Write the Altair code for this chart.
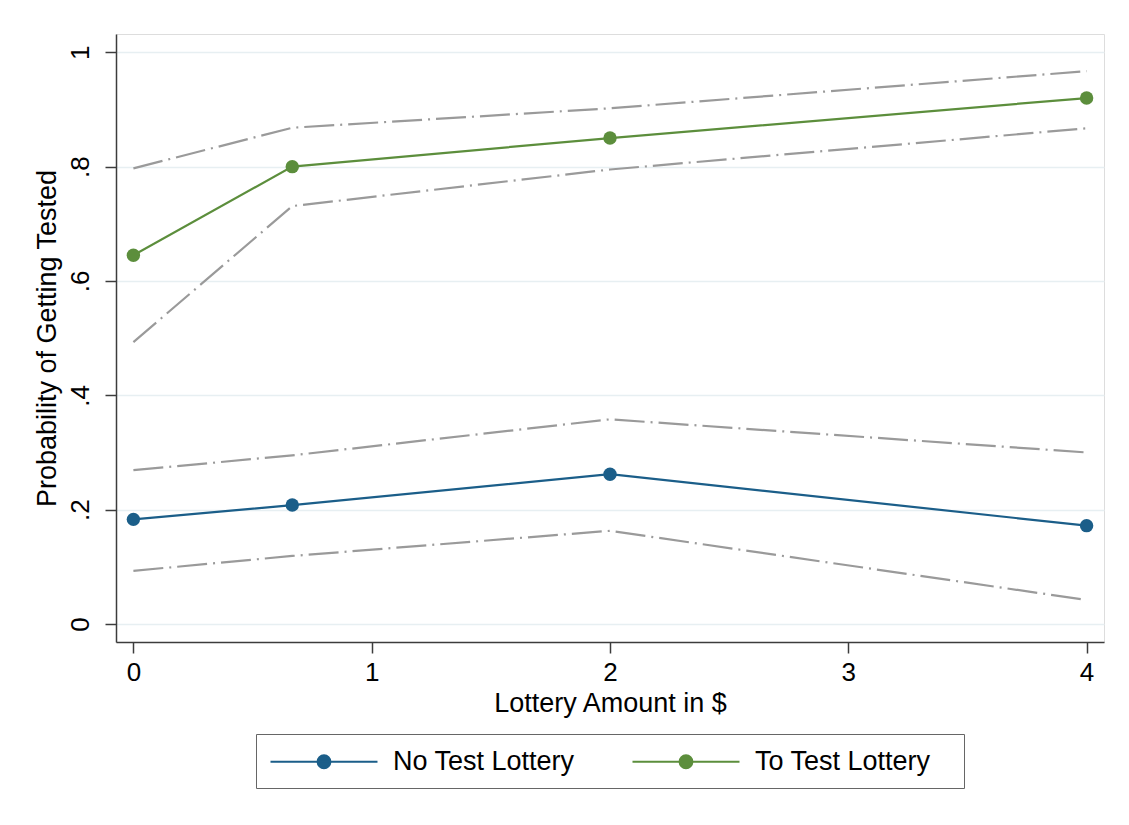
import altair as alt
import pandas as pd

# ---- data ----
amounts = [0, 2 / 3, 2, 4]
series_names = ["No Test Lottery", "To Test Lottery"]
no_test = [0.183, 0.208, 0.262, 0.172]
no_test_lo = [0.093, 0.119, 0.163, 0.042]
no_test_hi = [0.269, 0.295, 0.358, 0.300]
to_test = [0.645, 0.800, 0.850, 0.920]
to_test_lo = [0.493, 0.731, 0.795, 0.867]
to_test_hi = [0.797, 0.868, 0.902, 0.967]
x_ticks = [0, 1, 2, 3, 4]
y_ticks = [0, 0.2, 0.4, 0.6, 0.8, 1.0]

# ---- tables ----
main_rows = []
for name, vals in zip(series_names, [no_test, to_test]):
    for a, v in zip(amounts, vals):
        main_rows.append({"amount": a, "prob": v, "series": name})
main_df = pd.DataFrame(main_rows)

ci_rows = []
for band, vals in [("nt_lo", no_test_lo), ("nt_hi", no_test_hi),
                   ("tt_lo", to_test_lo), ("tt_hi", to_test_hi)]:
    for a, v in zip(amounts, vals):
        ci_rows.append({"amount": a, "prob": v, "band": band})
ci_df = pd.DataFrame(ci_rows)

FONT = "Liberation Sans"
FS = 26
TFS = 27
x_scale = alt.Scale(domain=[-0.073, 4.073], nice=False, zero=False)
y_scale = alt.Scale(domain=[-0.0315, 1.032], nice=False, zero=False)

x_enc = alt.X("amount:Q", scale=x_scale,
              axis=alt.Axis(values=x_ticks, title="Lottery Amount in $", grid=False,
                            format="d", labelFontSize=FS, titleFontSize=TFS,
                            labelPadding=6, titlePadding=5))
y_enc = alt.Y("prob:Q", scale=y_scale,
              axis=alt.Axis(values=y_ticks, title="Probability of Getting Tested",
                            grid=True, gridColor="#e7eff2", gridWidth=1.5,
                            labelAngle=270, labelAlign="center", labelBaseline="bottom",
                            labelExpr="datum.value == 0 ? '0' : (datum.value == 1 ? '1' : replace(format(datum.value, '.1f'), '0.', '.'))",
                            labelFontSize=FS, titleFontSize=TFS, labelPadding=12,
                            titlePadding=6))

ci = alt.Chart(ci_df).mark_line(color="#9a9a9a", strokeWidth=2.2,
                                strokeDash=[30, 6, 2, 6]).encode(
    x=x_enc, y=y_enc, detail="band:N")

color_scale = alt.Scale(domain=series_names, range=["#1b5e89", "#5c8e3c"])
legend_path = "M-1,0L7.23,0M3.6,0A0.485,0.485 0 1,1 2.63,0A0.485,0.485 0 1,1 3.6,0Z"
pad = "\u2800"
legend = alt.Legend(orient="none", legendX=140, legendY=700, direction="horizontal",
                    title=None, symbolType=legend_path, symbolSize=676,
                    symbolStrokeWidth=2.2, labelFontSize=TFS, labelColor="black",
                    labelOffset=95, labelLimit=800, columnPadding=53, padding=13,
                    labelExpr=f"datum.label == 'To Test Lottery' ? datum.label + '{pad}' : datum.label",
                    strokeColor="#666666", labelFont=FONT)

lines = alt.Chart(main_df).mark_line(strokeWidth=2.2).encode(
    x="amount:Q", y="prob:Q",
    color=alt.Color("series:N", scale=color_scale, legend=legend))
points = alt.Chart(main_df).mark_circle(size=180, opacity=1).encode(
    x="amount:Q", y="prob:Q",
    color=alt.Color("series:N", scale=color_scale, legend=legend))

chart = alt.layer(ci, lines, points).properties(
    width=988, height=608,
    autosize=alt.AutoSizeParams(type="none"),
    padding={"left": 108, "top": 26, "right": 17, "bottom": 175},
).configure_view(stroke=None).configure(font=FONT, background="white").configure_axis(
    domainColor="#3c3c3c", domainWidth=1.5, tickColor="#3c3c3c", tickWidth=1.5,
    tickSize=11, labelColor="black", titleColor="black", titleFontWeight="normal",
    labelFont=FONT, titleFont=FONT)

chart.save("out.html", embed_options={"renderer": "svg", "actions": False})
